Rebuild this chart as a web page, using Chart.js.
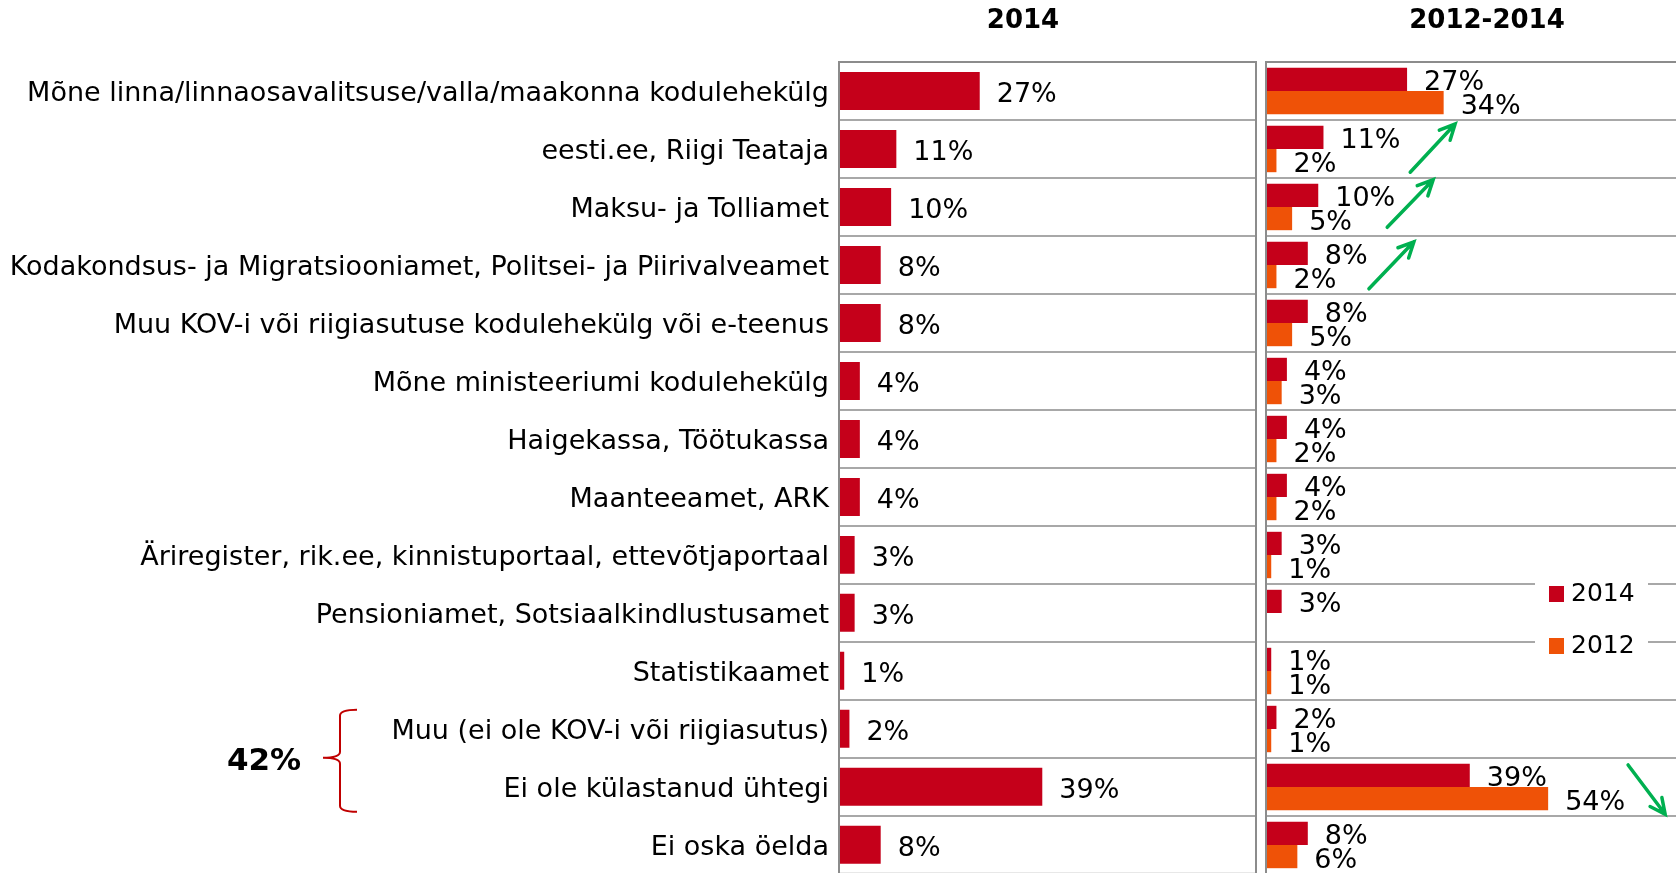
<!DOCTYPE html>
<html>
<head>
<meta charset="utf-8">
<script src="https://cdn.jsdelivr.net/npm/chart.js@4.4.1/dist/chart.umd.min.js"></script>
<style>
	html, body { margin:0; padding:0; background:#fff; overflow:hidden; width:1676px; height:873px; }
	#wrap { position:relative; width:1676px; height:873px; overflow:hidden; font-family:"DejaVu Sans", Verdana, sans-serif; }
	#leftChart { position:absolute; left:0; top:0; }
	#rightChart { position:absolute; left:1258px; top:0; }
	.ttl { position:absolute; top:-2px; width:240px; line-height:42px; text-align:center; font-weight:bold; font-size:26px; color:#000; }
	#legendBox { position:absolute; left:1535px; top:574px; width:113px; height:80px; background:#fff; }
	.lgItem { position:absolute; left:14px; height:30px; line-height:30px; font-size:25px; color:#000; }
	.lgItem span { display:inline-block; width:15px; height:16px; margin-right:7px; vertical-align:-1px; }
</style>
</head>
<body>
<div id="wrap">
	<canvas id="leftChart" width="1258" height="900"></canvas>
	<canvas id="rightChart" width="430" height="900"></canvas>
	<div class="ttl" style="left:903px;">2014</div>
	<div class="ttl" style="left:1367px;">2012-2014</div>
	<div id="legendBox">
		<div class="lgItem" style="top:4px;"><span style="background:#c5001a;"></span>2014</div>
		<div class="lgItem" style="top:56px;"><span style="background:#ef5207;"></span>2012</div>
	</div>
</div>
<script>
var categories = [
	'Mõne linna/linnaosavalitsuse/valla/maakonna kodulehekülg',
	'eesti.ee, Riigi Teataja',
	'Maksu- ja Tolliamet',
	'Kodakondsus- ja Migratsiooniamet, Politsei- ja Piirivalveamet',
	'Muu KOV-i või riigiasutuse kodulehekülg või e-teenus',
	'Mõne ministeeriumi kodulehekülg',
	'Haigekassa, Töötukassa',
	'Maanteeamet, ARK',
	'Äriregister, rik.ee, kinnistuportaal, ettevõtjaportaal',
	'Pensioniamet, Sotsiaalkindlustusamet',
	'Statistikaamet',
	'Muu (ei ole KOV-i või riigiasutus)',
	'Ei ole külastanud ühtegi',
	'Ei oska öelda'
];
var values2014 = [27, 11, 10, 8, 8, 4, 4, 4, 3, 3, 1, 2, 39, 8];
var values2012 = [34, 2, 5, 2, 5, 3, 2, 2, 1, null, 1, 1, 54, 6];
var seriesNames = ['2014', '2012'];
var axisMax = 80;

// kokku "Muu" + "Ei ole külastanud"
var bracketLabel = '42%';
var bracketRows = [11, 12];

// muutuse nooled: [x1, rida1, x2, rida2] (väärtus %, rea indeks)
var arrows = [
	[27.6, 1.40, 36.2, 0.57],
	[23.2, 2.35, 32.0, 1.53],
	[19.7, 3.41, 28.3, 2.60],
	[69.3, 11.62, 76.4, 12.47]
];

var RED = '#c5001a';
var ORANGE = '#ef5207';
var GRID = '#a8a8a8';
var FRAME = '#8c8c8c';
var FONT = '"DejaVu Sans", Verdana, sans-serif';

var _leftChart;
var _rightChart;

/********************************************************
 * pluginad
 ********************************************************/
var valueLabelPlugin = {
	id: 'valueLabels',
	afterDatasetsDraw: function(chart) {
		var ctx = chart.ctx;
		ctx.save();
		ctx.font = '27px ' + FONT;
		ctx.fillStyle = '#000';
		ctx.textAlign = 'left';
		ctx.textBaseline = 'middle';
		chart.data.datasets.forEach(function(ds, di) {
			var meta = chart.getDatasetMeta(di);
			meta.data.forEach(function(bar, i) {
				var v = ds.data[i];
				if (v === null || v === undefined) return;
				ctx.fillText(v + '%', bar.x + 17, bar.y + 4);
			});
		});
		ctx.restore();
	}
};

var framePlugin = {
	id: 'frame',
	afterDraw: function(chart) {
		var a = chart.chartArea;
		var ctx = chart.ctx;
		ctx.save();
		ctx.strokeStyle = FRAME;
		ctx.lineWidth = 2;
		ctx.strokeRect(a.left, a.top, a.right - a.left, a.bottom - a.top);
		ctx.restore();
	}
};

var bracketPlugin = {
	id: 'bracket',
	afterDraw: function(chart) {
		var y = chart.scales.y;
		var ctx = chart.ctx;
		var top = y.getPixelForValue(bracketRows[0] - 0.33);
		var bot = y.getPixelForValue(bracketRows[1] + 0.43);
		var mid = y.getPixelForValue((bracketRows[0] + bracketRows[1]) / 2);
		var xArm = 357, xLine = 340, xTip = 323;
		ctx.save();
		ctx.strokeStyle = '#c00000';
		ctx.lineWidth = 2;
		ctx.beginPath();
		ctx.moveTo(xArm, top);
		ctx.quadraticCurveTo(xLine, top, xLine, top + 6);
		ctx.lineTo(xLine, mid - 6);
		ctx.quadraticCurveTo(xLine, mid, xTip, mid);
		ctx.quadraticCurveTo(xLine, mid, xLine, mid + 6);
		ctx.lineTo(xLine, bot - 6);
		ctx.quadraticCurveTo(xLine, bot, xArm, bot);
		ctx.stroke();
		ctx.font = 'bold 31px ' + FONT;
		ctx.fillStyle = '#000';
		ctx.textAlign = 'center';
		ctx.textBaseline = 'middle';
		ctx.fillText(bracketLabel, 264, mid + 4);
		ctx.restore();
	}
};

var arrowPlugin = {
	id: 'arrows',
	afterDraw: function(chart) {
		var xs = chart.scales.x;
		var ys = chart.scales.y;
		var ctx = chart.ctx;
		ctx.save();
		ctx.strokeStyle = '#00b050';
		ctx.lineWidth = 3.5;
		ctx.lineCap = 'round';
		arrows.forEach(function(a) {
			var x1 = xs.getPixelForValue(a[0]), y1 = ys.getPixelForValue(a[1]);
			var x2 = xs.getPixelForValue(a[2]), y2 = ys.getPixelForValue(a[3]);
			var ang = Math.atan2(y2 - y1, x2 - x1);
			var h = 17;
			ctx.beginPath();
			ctx.moveTo(x1, y1);
			ctx.lineTo(x2, y2);
			ctx.moveTo(x2 - h * Math.cos(ang - 0.45), y2 - h * Math.sin(ang - 0.45));
			ctx.lineTo(x2, y2);
			ctx.lineTo(x2 - h * Math.cos(ang + 0.45), y2 - h * Math.sin(ang + 0.45));
			ctx.stroke();
		});
		ctx.restore();
	}
};

/********************************************************
 * 2014 graafik
 ********************************************************/
function renderLeftChart() {
	var ctx = document.getElementById('leftChart');
	_leftChart = new Chart(ctx, {
		type: 'bar',
		data: {
			labels: categories,
			datasets: [
				{
					label: seriesNames[0],
					data: values2014,
					backgroundColor: RED,
					borderWidth: 0,
					categoryPercentage: 0.655,
					barPercentage: 1.0
				}
			]
		},
		options: {
			indexAxis: 'y',
			responsive: false,
			animation: false,
			layout: { padding: { left: 0, top: 62, right: 2, bottom: 26 } },
			plugins: {
				legend: { display: false },
				tooltip: { enabled: false },
				title: { display: false }
			},
			scales: {
				x: { display: false, min: 0, max: axisMax },
				y: {
					afterFit: function(scale) { scale.width = 839; },
					grid: { color: GRID, lineWidth: 2, drawTicks: false, offset: true },
					border: { display: true, color: FRAME, width: 2 },
					ticks: {
						padding: 10,
						labelOffset: 3,
						color: '#000',
						font: { family: FONT, size: 27 }
					}
				}
			}
		},
		plugins: [valueLabelPlugin, framePlugin, bracketPlugin]
	});
}

/********************************************************
 * 2012-2014 graafik
 ********************************************************/
function renderRightChart() {
	var ctx = document.getElementById('rightChart');
	_rightChart = new Chart(ctx, {
		type: 'bar',
		data: {
			labels: categories,
			datasets: [
				{
					label: seriesNames[0],
					data: values2014,
					backgroundColor: RED,
					borderWidth: 0,
					categoryPercentage: 0.8,
					barPercentage: 1.0
				},
				{
					label: seriesNames[1],
					data: values2012,
					backgroundColor: ORANGE,
					borderWidth: 0,
					categoryPercentage: 0.8,
					barPercentage: 1.0
				}
			]
		},
		options: {
			indexAxis: 'y',
			responsive: false,
			animation: false,
			layout: { padding: { left: 0, top: 62, right: 4, bottom: 26 } },
			plugins: {
				legend: { display: false },
				tooltip: { enabled: false },
				title: { display: false }
			},
			scales: {
				x: { display: false, min: 0, max: axisMax },
				y: {
					afterFit: function(scale) { scale.width = 8; },
					grid: { color: GRID, lineWidth: 2, drawTicks: false, offset: true },
					border: { display: true, color: FRAME, width: 2 },
					ticks: { display: false }
				}
			}
		},
		plugins: [valueLabelPlugin, framePlugin, arrowPlugin]
	});
}

renderLeftChart();
renderRightChart();
</script>
</body>
</html>
